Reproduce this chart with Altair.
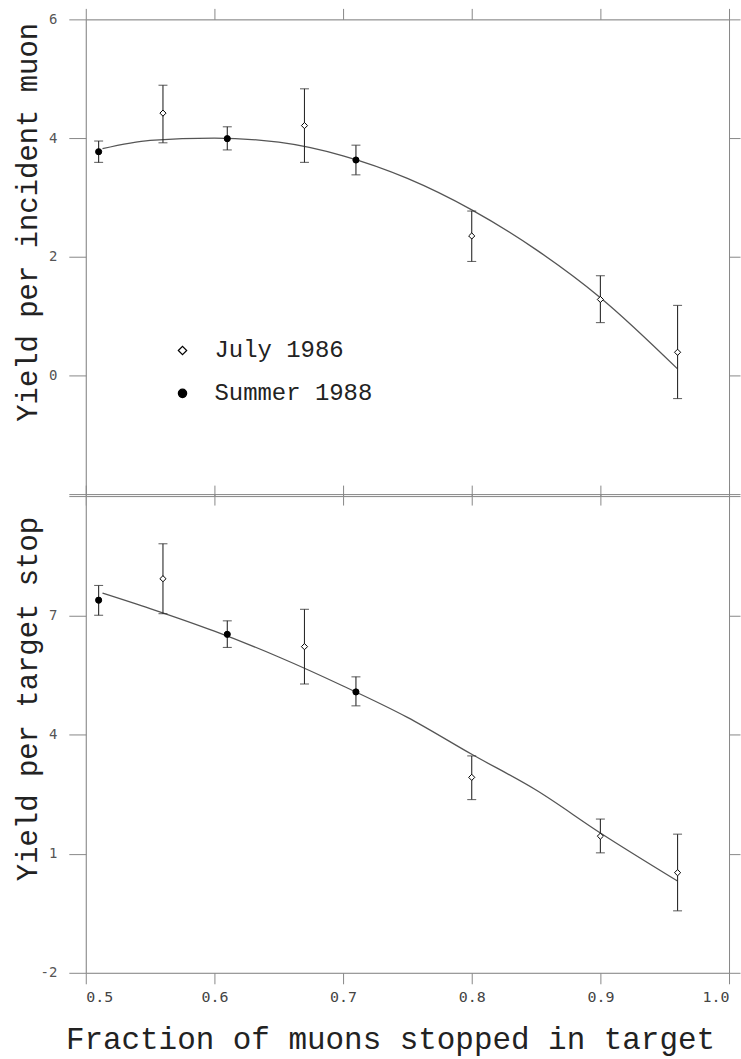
import altair as alt
import pandas as pd

# ---- data ----
x_ticks = [0.5, 0.6, 0.7, 0.8, 0.9, 1.0]
top_y_ticks = [-2, 0, 2, 4, 6]
bot_y_ticks = [-2, 1, 4, 7, 10]
series_order = ["July 1986", "Summer 1988"]

fraction = [0.51, 0.56, 0.61, 0.67, 0.71, 0.80, 0.90, 0.96]
series = ["Summer 1988", "July 1986", "Summer 1988", "July 1986",
          "Summer 1988", "July 1986", "July 1986", "July 1986"]
yield_inc = [3.77, 4.42, 3.99, 4.21, 3.63, 2.35, 1.28, 0.39]
yield_inc_lo = [3.59, 3.92, 3.80, 3.59, 3.38, 1.92, 0.89, -0.39]
yield_inc_hi = [3.95, 4.89, 4.19, 4.83, 3.88, 2.77, 1.68, 1.18]
yield_stop = [7.38, 7.92, 6.52, 6.21, 5.07, 2.92, 1.44, 0.52]
yield_stop_lo = [7.00, 7.04, 6.19, 5.27, 4.72, 2.36, 1.02, -0.44]
yield_stop_hi = [7.75, 8.80, 6.86, 7.15, 5.45, 3.46, 1.87, 1.49]

fit_x = [0.513, 0.55, 0.60, 0.65, 0.70, 0.75, 0.80, 0.85, 0.90, 0.96]
fit_inc = [3.82, 3.96, 4.00, 3.93, 3.70, 3.32, 2.79, 2.12, 1.31, 0.11]
fit_stop = [7.56, 7.17, 6.60, 5.95, 5.22, 4.43, 3.50, 2.60, 1.52, 0.31]

INK = "#2a2a2a"
TITLE_FONT = "Liberation Mono"
TICK_FONT = "DejaVu Sans Mono"


def panel(yv, lo, hi, fit, y_ticks, y_domain, y_title, hidden_value, x_labels, height):
    pts = pd.DataFrame({"x": fraction, "y": yv, "lo": lo, "hi": hi, "series": series})
    fitdf = pd.DataFrame({"x": fit_x, "y": fit})
    xs = alt.Scale(domain=[0.5, 1.0], nice=False, zero=False)
    ys = alt.Scale(domain=y_domain, nice=False, zero=False)

    x_bottom = alt.Axis(
        orient="bottom", values=x_ticks, tickSize=11, labels=x_labels, format=".1f", grid=False,
        title="Fraction of muons stopped in target" if x_labels else None,
        labelFont=TICK_FONT, labelFontSize=15, labelColor="#444", labelPadding=6,
        titleFont=TITLE_FONT, titleFontSize=31, titleFontWeight="normal",
        titleColor="#222", titlePadding=20, titleX=305, titleAlign="center",
        titleLimit=800,
    )
    x_top = alt.Axis(orient="top", values=x_ticks, tickSize=11, labels=False, title=None, grid=False)
    y_left = alt.Axis(
        orient="left", values=y_ticks, tickSize=17, format="d", grid=False,
        labelExpr=f"datum.value == {hidden_value} ? '' : replace(datum.label, '\u2212', '-')",
        labelFont=TICK_FONT, labelFontSize=14, labelColor="#555", labelPadding=12,
        title=y_title, titleFont=TITLE_FONT, titleFontSize=29, titleFontWeight="normal",
        titleColor="#222", titleAngle=270, titleBaseline="bottom", titleX=-43, titleY=203,
        titleLimit=800,
    )
    y_right = alt.Axis(orient="right", values=y_ticks, tickSize=11, labels=False, title=None, grid=False)

    legend = alt.Legend(
        orient="none", legendX=85, legendY=320, title=None,
        labelFont=TITLE_FONT, labelFontSize=24, labelColor="#222", labelOffset=20,
        symbolSize=70, symbolStrokeColor="black", symbolStrokeWidth=1.2,
        rowPadding=19, padding=0,
    )

    line = alt.Chart(fitdf).mark_line(color="#555", strokeWidth=1.3, interpolate="monotone").encode(
        x=alt.X("x:Q", scale=xs, axis=x_bottom),
        y=alt.Y("y:Q", scale=ys, axis=y_left),
    )
    rules = alt.Chart(pts).mark_rule(color=INK, strokeWidth=1.1).encode(
        x=alt.X("x:Q", scale=xs, axis=x_top),
        y=alt.Y("lo:Q", scale=ys, axis=y_right),
        y2="hi:Q",
    )
    cap_lo = alt.Chart(pts).mark_tick(orient="horizontal", size=9, thickness=1.1, color=INK).encode(
        x=alt.X("x:Q", scale=xs, axis=None),
        y=alt.Y("lo:Q", scale=ys, axis=None),
    )
    cap_hi = alt.Chart(pts).mark_tick(orient="horizontal", size=9, thickness=1.1, color=INK).encode(
        x=alt.X("x:Q", scale=xs, axis=None),
        y=alt.Y("hi:Q", scale=ys, axis=None),
    )
    points = alt.Chart(pts).mark_point(
        filled=True, strokeWidth=1, opacity=1, size=38
    ).encode(
        x=alt.X("x:Q", scale=xs, axis=None),
        y=alt.Y("y:Q", scale=ys, axis=None),
        shape=alt.Shape("series:N", scale=alt.Scale(domain=series_order, range=["diamond", "circle"]), legend=legend),
        fill=alt.Fill("series:N", scale=alt.Scale(domain=series_order, range=["white", "black"]), legend=legend),
        stroke=alt.Stroke("series:N", scale=alt.Scale(domain=series_order, range=["black", "black"]), legend=legend),
    )
    return alt.layer(line, rules, cap_lo, cap_hi, points).resolve_axis(
        x="independent", y="independent"
    ).properties(width=645, height=height)


top = panel(yield_inc, yield_inc_lo, yield_inc_hi, fit_inc, top_y_ticks, [-2, 6],
            "Yield per incident muon", -2, False, 476)
bottom = panel(yield_stop, yield_stop_lo, yield_stop_hi, fit_stop, bot_y_ticks, [-2, 10],
               "Yield per target stop", 10, True, 478)

chart = alt.vconcat(top, bottom, spacing=2, bounds="flush").properties(
    padding={"left": 13, "top": 6, "right": 0, "bottom": 0}
).configure_view(stroke=None).configure_axis(
    grid=False, domainColor=INK, tickColor=INK, domainWidth=1.2, tickWidth=1.2
).configure(background="white")

chart.save("out.html", embed_options={"renderer": "svg", "actions": False})
